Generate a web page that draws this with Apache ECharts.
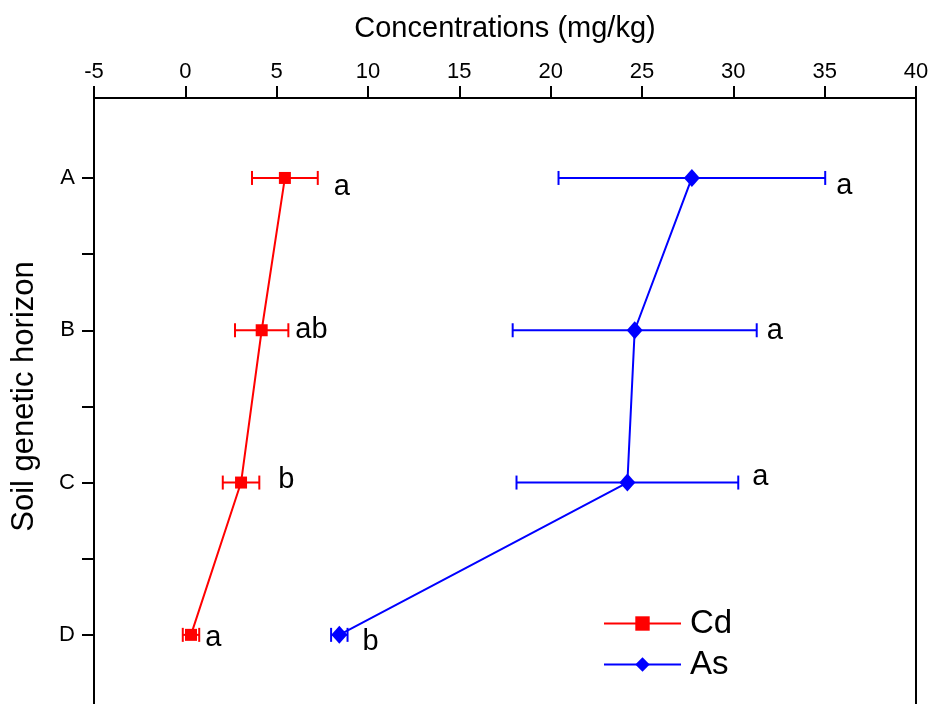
<!DOCTYPE html>
<html><head><meta charset="utf-8">
<script src="https://cdn.jsdelivr.net/npm/echarts@6/dist/echarts.min.js"></script>
<style>html,body{margin:0;padding:0;background:#fff}#c{width:929px;height:704px}</style>
</head><body><div id="c"></div>
<script>
// ---- data ----
var horizons = ['A', 'B', 'C', 'D'];
var cdMean = [5.45, 4.18, 3.05, 0.31];
var cdErr = [1.8, 1.46, 1.0, 0.45];
var cdSig = ['a', 'ab', 'b', 'a'];
var asMean = [27.73, 24.6, 24.2, 8.43];
var asErr = [7.3, 6.68, 6.07, 0.45];
var asSig = ['a', 'a', 'a', 'b'];
var xTicks = [-5, 0, 5, 10, 15, 20, 25, 30, 35, 40];
var yTickPos = [1, 1.5, 2, 2.5, 3, 3.5, 4, 4.5];
var yLabelPos = [1, 2, 3, 4];

// ---- style (label offsets in px, relative to error bar end) ----
var cdLabelOff = [[16, 9], [7, 0], [19, -3], [6, 3]];
var asLabelOff = [[11, 8], [10, 1], [14, -6], [15, 7]];
var FONT = 'Liberation Sans, Arial, sans-serif';

function seriesPairs(mean) { return mean.map(function (m, i) { return [m, i + 1]; }); }
function errData(mean, err, sig) { return mean.map(function (m, i) { return [i + 1, m, err[i], sig[i], i]; }); }

function makeErr(color, offs) {
  return function (params, api) {
    var y = api.value(0), m = api.value(1), e = api.value(2);
    var lo = api.coord([m - e, y]), hi = api.coord([m + e, y]);
    var cap = 7;
    var st = { stroke: color, lineWidth: 2 };
    var o = offs[api.value(4)];
    return {
      type: 'group',
      children: [
        { type: 'line', shape: { x1: lo[0], y1: lo[1], x2: hi[0], y2: hi[1] }, style: st },
        { type: 'line', shape: { x1: lo[0], y1: lo[1] - cap, x2: lo[0], y2: lo[1] + cap }, style: st },
        { type: 'line', shape: { x1: hi[0], y1: hi[1] - cap, x2: hi[0], y2: hi[1] + cap }, style: st },
        { type: 'text', x: hi[0] + o[0], y: hi[1] + o[1],
          style: { text: api.value(3), fill: '#000', font: '29px ' + FONT, textAlign: 'left', textVerticalAlign: 'middle' } }
      ]
    };
  };
}

var chart = echarts.init(document.getElementById('c'), null, { renderer: 'canvas' });
chart.setOption({
  animation: false,
  backgroundColor: '#fff',
  textStyle: { fontFamily: FONT },
  grid: { left: 94, top: 98, right: 13, bottom: -7, outerBoundsMode: 'none', containLabel: false,
          show: true, borderColor: '#000', borderWidth: 2, backgroundColor: 'transparent' },
  xAxis: {
    type: 'value', position: 'top', min: xTicks[0], max: xTicks[xTicks.length - 1], interval: 5,
    name: 'Concentrations (mg/kg)', nameLocation: 'middle', nameGap: 55,
    nameTextStyle: { fontSize: 29, color: '#000', fontFamily: FONT },
    axisLine: { onZero: false, lineStyle: { color: '#000', width: 2 } },
    axisTick: { show: true, inside: false, length: 12, lineStyle: { color: '#000', width: 2 } },
    axisLabel: { fontSize: 22, color: '#000', margin: 15, fontFamily: FONT },
    splitLine: { show: false }
  },
  yAxis: {
    type: 'value', inverse: true, min: 0.475, max: 4.5,
    name: 'Soil genetic horizon', nameLocation: 'middle', nameGap: 54,
    nameTextStyle: { fontSize: 31, color: '#000', fontFamily: FONT, padding: [0, 0, 0, 16] },
    axisLine: { onZero: false, lineStyle: { color: '#000', width: 2 } },
    axisTick: { show: true, inside: false, length: 12, customValues: yTickPos, lineStyle: { color: '#000', width: 2 } },
    axisLabel: {
      fontSize: 22, color: '#000', margin: 19, fontFamily: FONT, customValues: yLabelPos,
      formatter: function (v) { return horizons[Math.round(v) - 1]; }
    },
    splitLine: { show: false }
  },
  legend: {
    orient: 'vertical', left: 598, top: 602, itemWidth: 77, itemHeight: 18, itemGap: 8,
    textStyle: { fontSize: 33, color: '#000', fontFamily: FONT, padding: [0, 0, 0, 4] },
    data: ['Cd', 'As']
  },
  series: [
    { name: 'Cd', type: 'line', data: seriesPairs(cdMean), symbol: 'rect', symbolSize: 12,
      itemStyle: { color: '#ff0000' }, lineStyle: { color: '#ff0000', width: 2 }, z: 3 },
    { name: 'As', type: 'line', data: seriesPairs(asMean), symbol: 'diamond', symbolSize: [16, 18],
      itemStyle: { color: '#0000ff' }, lineStyle: { color: '#0000ff', width: 2 }, z: 3 },
    { name: 'CdErr', type: 'custom', data: errData(cdMean, cdErr, cdSig), renderItem: makeErr('#ff0000', cdLabelOff), z: 2, silent: true },
    { name: 'AsErr', type: 'custom', data: errData(asMean, asErr, asSig), renderItem: makeErr('#0000ff', asLabelOff), z: 2, silent: true }
  ]
});
</script></body></html>
